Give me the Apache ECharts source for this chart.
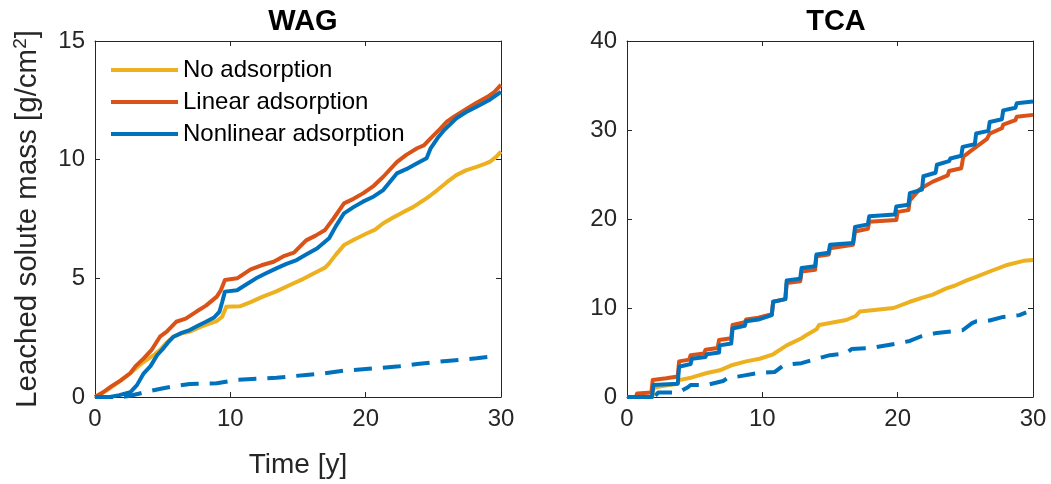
<!DOCTYPE html>
<html>
<head>
<meta charset="utf-8">
<script src="https://cdn.jsdelivr.net/npm/echarts@6/dist/echarts.min.js"></script>
<style>html,body{margin:0;padding:0;background:#fff;}#c{width:1051px;height:484px;}</style>
</head>
<body>
<div id="c"></div>
<script>
// ---------------- DATA ----------------
const seriesNames = ['No adsorption', 'Linear adsorption', 'Nonlinear adsorption'];
const panelTitles = ['WAG', 'TCA'];
const xTicks = [0, 10, 20, 30];
const wagYTicks = [0, 5, 10, 15];
const tcaYTicks = [0, 10, 20, 30, 40];

// WAG panel: time [y] and leached mass [g/cm2]
const wagNoT = [0,0.5,1.1,1.8,2.6,3.2,3.8,4.3,4.8,5.3,5.8,6.4,7.0,7.8,8.5,9.0,9.4,9.7,10.7,11.5,12.4,13.4,14.4,15.4,16.4,17.0,17.3,17.8,18.4,19.2,20.1,20.7,21.3,22.0,22.8,23.5,24.3,24.8,25.3,26.0,26.7,27.4,28.2,28.8,29.2,29.6,30];
const wagNoV = [0,0.15,0.37,0.65,1.0,1.3,1.56,1.75,1.98,2.3,2.54,2.68,2.75,2.95,3.1,3.2,3.38,3.8,3.82,4.0,4.23,4.45,4.72,4.98,5.28,5.45,5.63,6.0,6.4,6.65,6.9,7.05,7.32,7.55,7.8,8.0,8.3,8.5,8.72,9.05,9.35,9.55,9.7,9.82,9.92,10.1,10.34];

const wagLinT = [0,0.6,1.2,1.9,2.6,3.0,3.6,4.2,4.8,5.3,6.0,6.7,7.5,8.2,9.0,9.3,9.6,10.5,11.5,12.3,13.2,14.0,14.7,15.6,16.3,17.0,17.6,18.4,19.1,19.8,20.6,21.3,22.3,23.0,23.8,24.3,24.8,25.5,26.0,26.5,27.5,28.2,29.0,29.5,30];
const wagLinV = [0,0.2,0.45,0.7,1.0,1.3,1.63,2.0,2.54,2.75,3.17,3.3,3.6,3.85,4.23,4.5,4.93,5.0,5.38,5.55,5.7,5.95,6.08,6.6,6.8,7.04,7.5,8.16,8.35,8.58,8.9,9.28,9.9,10.2,10.48,10.6,10.9,11.3,11.6,11.8,12.16,12.4,12.65,12.85,13.15];

const wagNonT = [0,1.1,1.8,2.6,3.1,3.6,4.1,4.6,5.05,5.4,5.8,6.4,7.0,7.6,8.2,8.8,9.2,9.4,9.6,10.5,11.2,11.9,12.6,13.4,14.1,14.9,15.6,16.4,17.3,17.8,18.4,19.1,19.8,20.6,21.3,22.3,23.0,23.8,24.5,24.8,25.3,25.8,26.7,27.4,28.2,29.1,30];
const wagNonV = [0,0,0.08,0.2,0.5,1.0,1.3,1.77,2.05,2.3,2.54,2.7,2.82,3.0,3.17,3.35,3.6,4.0,4.44,4.5,4.75,5.0,5.2,5.42,5.6,5.77,6.0,6.26,6.69,7.2,7.74,8.0,8.23,8.45,8.72,9.42,9.6,9.85,10.06,10.48,10.9,11.25,11.74,12.0,12.23,12.5,12.86];

const wagDashT = [0,2.0,2.6,3.3,4.0,5.05,6.0,7.0,9.0,10.5,12.0,13.4,15.6,17.0,18.4,20.8,22.5,23.8,26.2,28.2,29.7];
const wagDashV = [0,0,0.05,0.15,0.25,0.37,0.47,0.55,0.58,0.72,0.77,0.81,0.93,1.0,1.11,1.21,1.3,1.39,1.53,1.63,1.73];

// TCA panel
const tcaNoT = [0,1.85,1.95,2.5,3.75,3.85,4.8,5.9,6.85,7.8,8.8,9.8,10.8,11.8,12.9,13.3,14.0,14.2,16.2,16.9,17.2,19.7,20.9,21.9,22.6,23.6,24.2,25.1,25.8,26.8,28.0,29.3,30];
const tcaNoV = [0,0,1.0,1.2,1.5,1.9,2.2,2.7,3.0,3.6,4.0,4.3,4.8,5.8,6.6,7.0,7.6,8.1,8.65,9.1,9.6,10.0,10.7,11.2,11.5,12.2,12.5,13.1,13.5,14.1,14.8,15.3,15.4];

const tcaLinT = [0,0.65,0.75,1.8,1.9,2.9,3.75,3.85,4.6,4.7,5.7,5.8,6.7,6.8,7.7,7.8,8.7,8.8,9.7,9.8,10.7,10.8,11.7,11.8,12.8,12.9,13.9,14.0,14.9,15.0,16.7,16.85,17.8,17.9,19.9,20.0,20.8,20.9,21.6,21.9,22.6,23.7,23.8,24.7,24.85,25.8,26.6,26.8,27.7,27.8,28.7,28.8,30];
const tcaLinV = [0,0,0.4,0.5,1.9,2.1,2.3,4.0,4.2,4.7,4.9,5.3,5.5,6.4,6.6,8.1,8.4,8.7,8.9,9.1,9.3,10.7,11.0,12.8,13.0,14.1,14.3,15.8,16.0,16.7,17.1,18.6,18.9,19.7,19.9,20.8,21.0,22.1,23.3,23.6,24.2,24.9,25.4,25.7,27.0,28.1,29.0,29.6,30.2,30.6,31.1,31.5,31.7];

const tcaNonT = [0,1.85,1.95,3.75,3.85,4.7,4.8,5.8,5.9,6.8,6.85,7.7,7.8,8.7,8.8,9.7,9.8,10.7,10.8,11.7,11.8,12.8,12.9,13.9,14.0,14.9,15.0,16.7,16.85,17.8,17.9,19.8,19.9,20.8,20.9,21.8,21.9,22.8,22.9,23.8,23.9,24.7,24.8,25.7,25.8,26.7,26.8,27.7,27.8,28.7,28.8,30];
const tcaNonV = [0,0,1.35,1.5,3.4,3.7,4.3,4.5,4.8,5.0,5.8,6.0,7.7,8.0,8.5,8.7,8.9,9.2,10.7,11.0,13.1,13.3,14.5,14.7,16.0,16.2,17.1,17.3,19.1,19.4,20.3,20.5,21.4,21.6,22.9,23.3,24.8,25.2,26.1,26.5,26.8,27.1,28.1,28.4,29.6,29.9,30.9,31.2,32.2,32.5,33.0,33.2];

const tcaDashT = [0,2.0,2.3,3.8,4.5,4.7,5.9,7.1,7.4,8.6,9.7,10.9,11.6,12.9,14.0,15.0,16.2,16.6,18.0,19.9,20.9,21.7,22.9,24.8,25.5,25.8,26.8,27.8,29.0,29.5];
const tcaDashV = [0,0,0.5,0.5,1.1,1.35,1.35,1.8,2.1,2.4,2.7,2.8,3.6,3.8,4.3,4.7,4.9,5.4,5.5,6.0,6.3,6.8,7.2,7.5,8.3,8.5,8.6,9.0,9.2,9.5];

// ---------------- CHART ----------------
const colors = ['#EDB120', '#D95319', '#0072BD'];
const FONT = 'Liberation Sans, Arial, Helvetica, sans-serif';
const AX = '#262626';
const zip = (t, v) => t.map((x, i) => [x, v[i]]);

function xAx(gi, pos, showLabel, name) {
  return {
    type: 'value', gridIndex: gi, position: pos, min: 0, max: 30, interval: 10,
    axisLine: { show: true, onZero: false, lineStyle: { color: AX, width: 1 } },
    axisTick: { show: true, inside: true, length: 5, lineStyle: { color: AX } },
    axisLabel: { show: showLabel, fontSize: 24, color: AX, fontFamily: FONT, margin: 10 },
    splitLine: { show: false },
    name: name || '', nameLocation: 'middle', nameGap: 54,
    nameTextStyle: { fontSize: 28, color: AX, fontFamily: FONT }
  };
}
function yAx(gi, pos, max, interval, showLabel, name) {
  return {
    type: 'value', gridIndex: gi, position: pos, min: 0, max: max, interval: interval,
    axisLine: { show: true, onZero: false, lineStyle: { color: AX, width: 1 } },
    axisTick: { show: true, inside: true, length: 5, lineStyle: { color: AX } },
    axisLabel: { show: showLabel, fontSize: 24, color: AX, fontFamily: FONT, margin: 10 },
    splitLine: { show: false },
    name: name || '', nameLocation: 'middle', nameGap: 51, nameRotate: 90,
    nameTextStyle: { fontSize: 29.5, color: AX, fontFamily: FONT,
      rich: { s: { fontSize: 19, color: AX, fontFamily: FONT, verticalAlign: 'top', padding: [0, 0, 14, 0] } } }
  };
}
function line(name, data, xi, yi, color, dashed) {
  return {
    name: name, type: 'line', xAxisIndex: xi, yAxisIndex: yi, data: data,
    showSymbol: false, symbol: 'none', clip: false, silent: true,
    lineStyle: { color: color, width: 4, type: dashed ? [18, 11] : 'solid', cap: 'butt', join: 'round' },
    itemStyle: { color: color }
  };
}

const chart = echarts.init(document.getElementById('c'), null, { renderer: 'canvas' });
chart.setOption({
  animation: false,
  backgroundColor: '#fff',
  title: [
    { text: panelTitles[0], left: 298, top: 2, textAlign: 'center', textStyle: { fontSize: 29, fontWeight: 'bold', color: '#000', fontFamily: FONT } },
    { text: panelTitles[1], left: 831, top: 2, textAlign: 'center', textStyle: { fontSize: 29, fontWeight: 'bold', color: '#000', fontFamily: FONT } }
  ],
  grid: [
    { left: 95, top: 41, width: 406, height: 356 },
    { left: 627, top: 41, width: 406, height: 356 }
  ],
  xAxis: [
    xAx(0, 'bottom', true, 'Time [y]'), xAx(0, 'top', false),
    xAx(1, 'bottom', true), xAx(1, 'top', false)
  ],
  yAxis: [
    yAx(0, 'left', 15, 5, true, 'Leached solute mass [g/cm{s|2}]'), yAx(0, 'right', 15, 5, false),
    yAx(1, 'left', 40, 10, true), yAx(1, 'right', 40, 10, false)
  ],
  legend: {
    data: seriesNames, orient: 'vertical', left: 106, top: 53,
    icon: 'rect', itemWidth: 67, itemHeight: 4, itemGap: 8,
    textStyle: { fontSize: 24, color: '#000', fontFamily: FONT, lineHeight: 24 },
    selectedMode: false
  },
  series: [
    line('WAG dashed', zip(wagDashT, wagDashV), 0, 0, colors[2], true),
    line(seriesNames[0], zip(wagNoT, wagNoV), 0, 0, colors[0]),
    line(seriesNames[1], zip(wagLinT, wagLinV), 0, 0, colors[1]),
    line(seriesNames[2], zip(wagNonT, wagNonV), 0, 0, colors[2]),
    line('TCA dashed', zip(tcaDashT, tcaDashV), 2, 2, colors[2], true),
    line('TCA ' + seriesNames[0], zip(tcaNoT, tcaNoV), 2, 2, colors[0]),
    line('TCA ' + seriesNames[1], zip(tcaLinT, tcaLinV), 2, 2, colors[1]),
    line('TCA ' + seriesNames[2], zip(tcaNonT, tcaNonV), 2, 2, colors[2])
  ]
});
</script>
</body>
</html>
